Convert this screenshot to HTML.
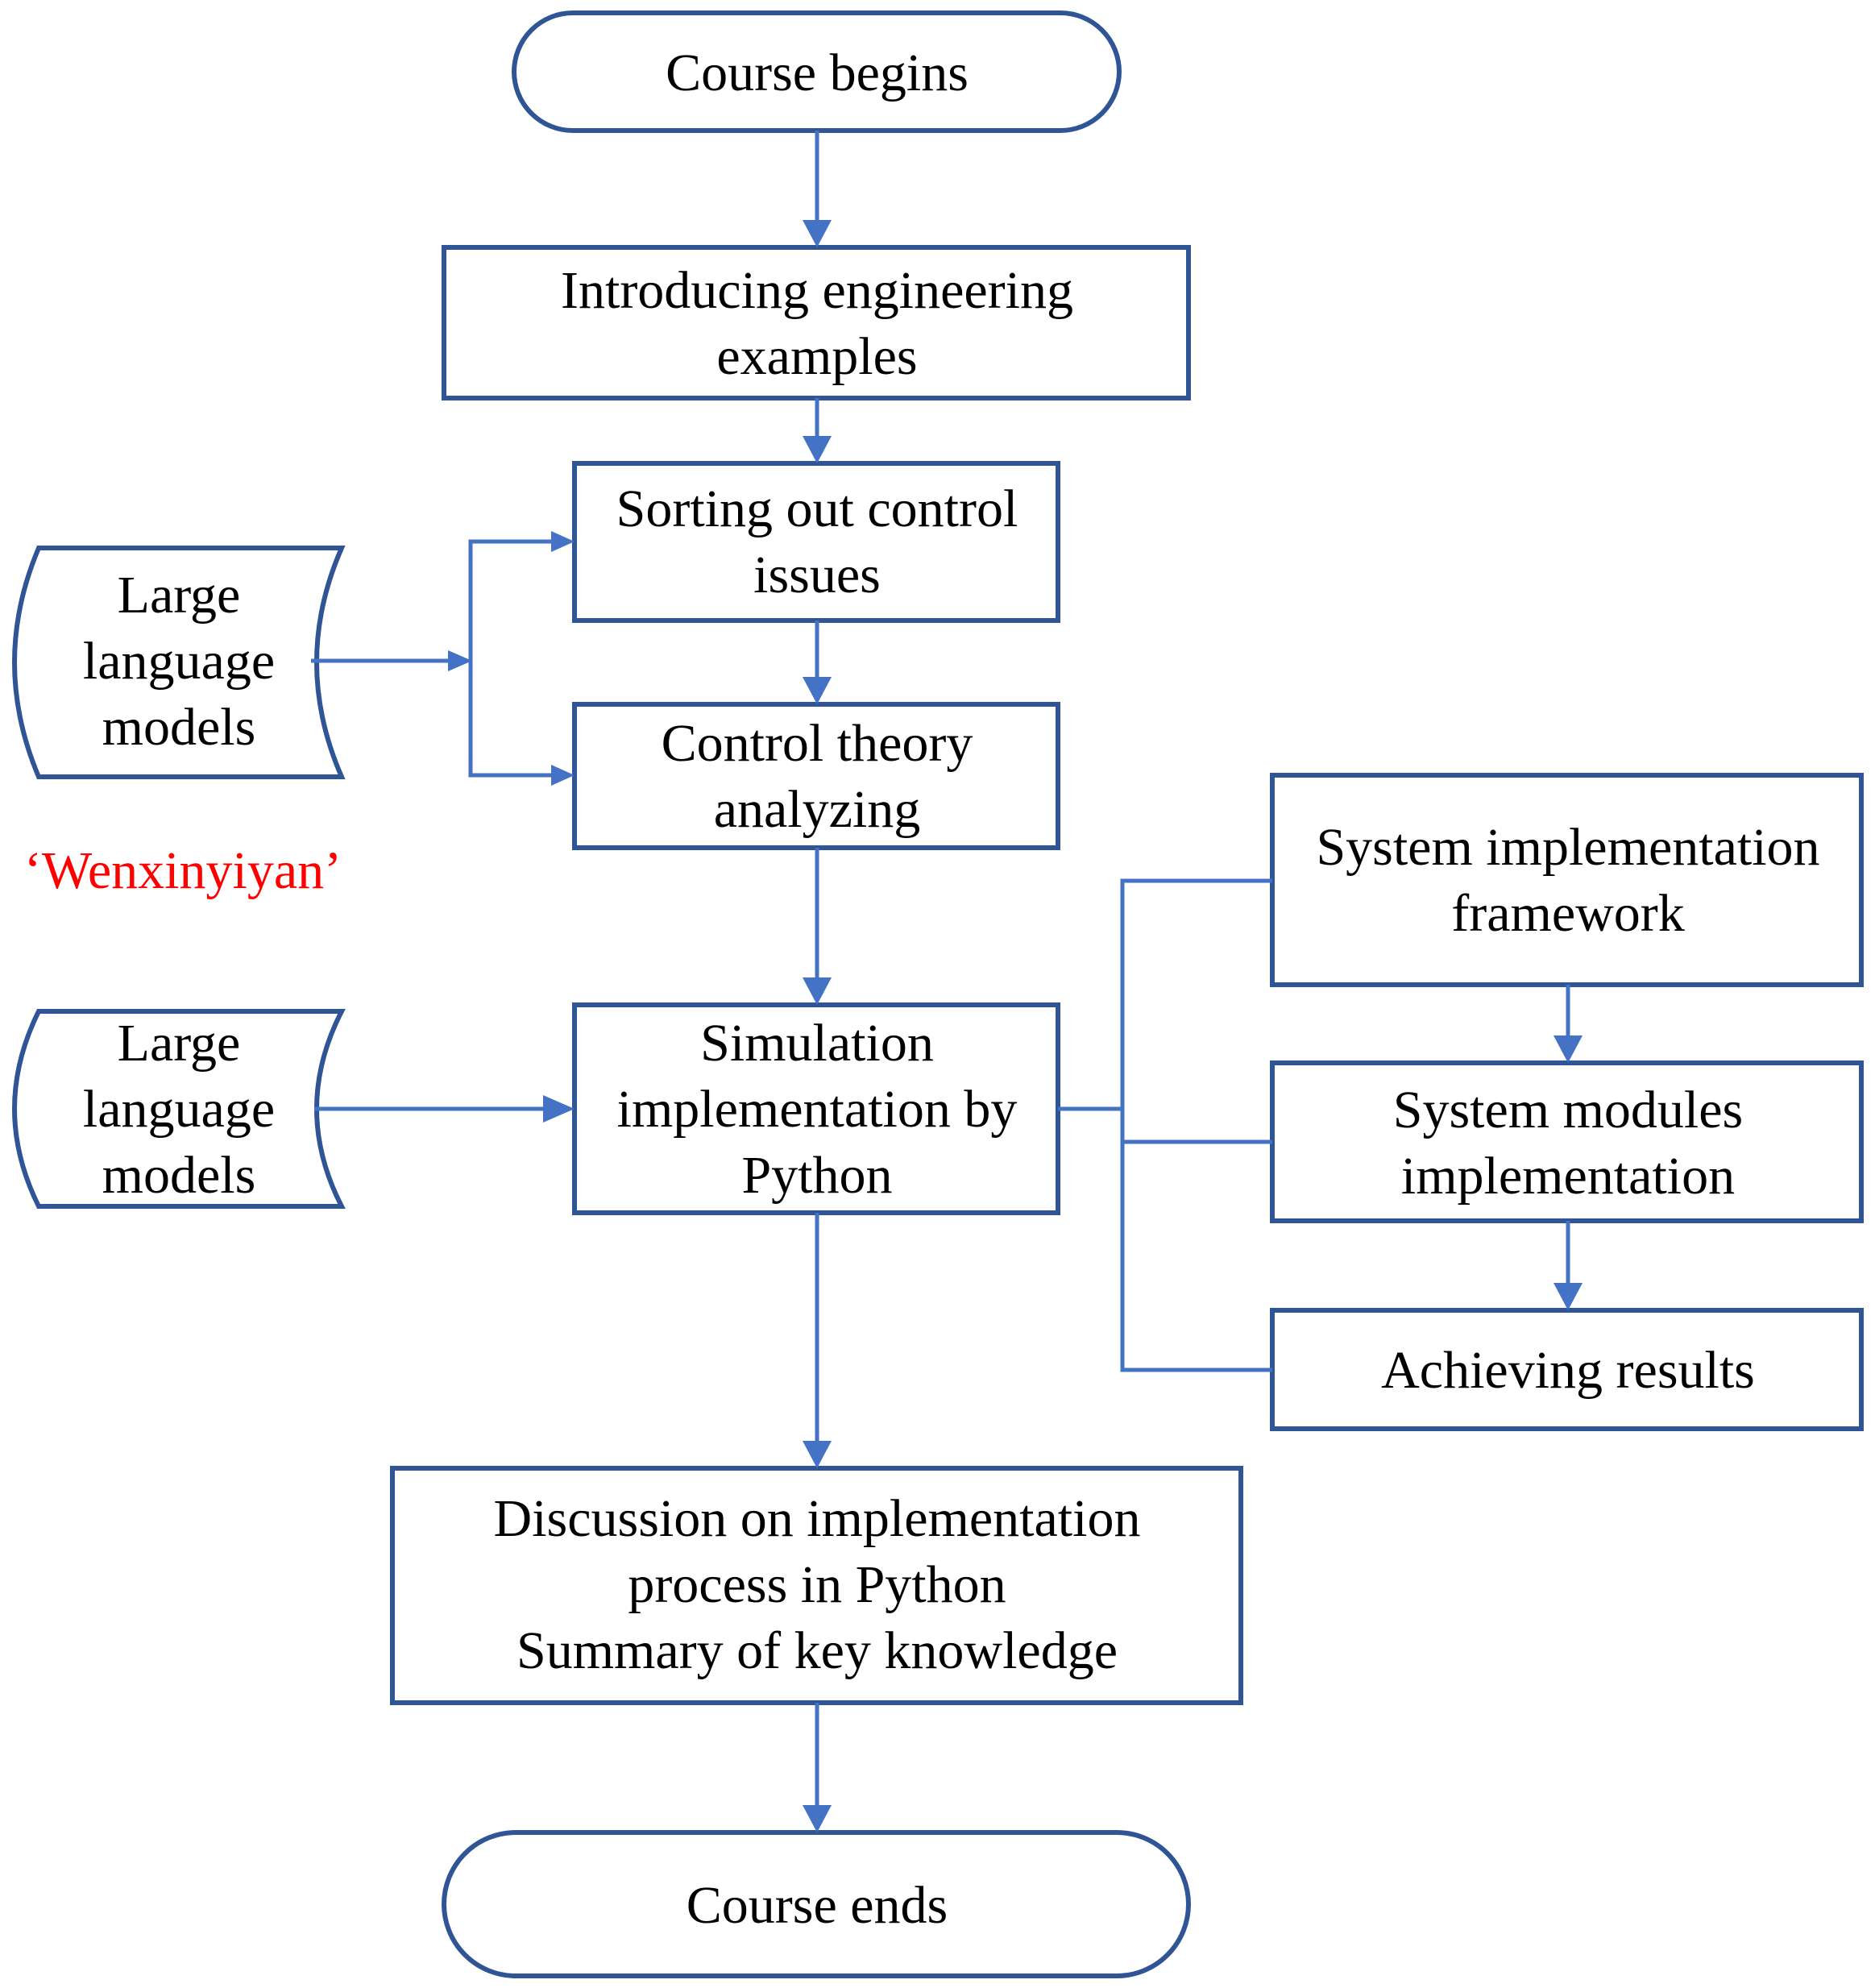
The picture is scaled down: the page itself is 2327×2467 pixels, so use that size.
<!DOCTYPE html>
<html><head><meta charset="utf-8"><style>
html,body{margin:0;padding:0;background:#fff}
svg{display:block}
text{font-family:"Liberation Serif",serif;font-size:66px;fill:#000;text-anchor:middle}
</style></head><body>
<svg width="2327" height="2467" viewBox="0 0 2327 2467" xmlns="http://www.w3.org/2000/svg">
<g fill="none" stroke="#2F5597" stroke-width="6">
<rect x="638" y="16" width="751" height="146" rx="73"/>
<rect x="551" y="307" width="924" height="187"/>
<rect x="713" y="575" width="600" height="195"/>
<rect x="713" y="874" width="600" height="178"/>
<rect x="713" y="1247" width="600" height="258"/>
<rect x="487" y="1822" width="1053" height="291"/>
<rect x="551" y="2274" width="924" height="178" rx="89"/>
<rect x="1579" y="962" width="731" height="260"/>
<rect x="1579" y="1319" width="731" height="196"/>
<rect x="1579" y="1626" width="731" height="147"/>
<path d="M48,680 L424,680 Q362,822 424,964 L48,964 Q-12,822 48,680 Z"/>
<path d="M48,1255 L424,1255 Q362,1376 424,1497 L48,1497 Q-12,1376 48,1255 Z"/>
</g>
<g fill="none" stroke="#4472C4" stroke-width="5">
<path d="M1014,162 V280"/>
<path d="M1014,494 V550"/>
<path d="M1014,770 V850"/>
<path d="M1014,1052 V1220"/>
<path d="M1014,1505 V1795"/>
<path d="M1014,2113 V2248"/>
<path d="M386,820 H566"/>
<path d="M698,672 H584 V962 H698"/>
<path d="M390,1376 H690"/>
<path d="M1313,1376 H1393"/>
<path d="M1579,1093 H1393 V1700 H1579"/>
<path d="M1393,1417 H1579"/>
<path d="M1946,1222 V1295"/>
<path d="M1946,1515 V1600"/>
</g>
<g fill="#4472C4">
<path d="M996,273 L1032,273 L1014,307 Z"/>
<path d="M996,541 L1032,541 L1014,575 Z"/>
<path d="M996,840 L1032,840 L1014,874 Z"/>
<path d="M996,1213 L1032,1213 L1014,1247 Z"/>
<path d="M996,1788 L1032,1788 L1014,1822 Z"/>
<path d="M996,2240 L1032,2240 L1014,2274 Z"/>
<path d="M556,807 L586,820 L556,833 Z"/>
<path d="M684,659 L713,672 L684,685 Z"/>
<path d="M684,949 L713,962 L684,975 Z"/>
<path d="M674,1359 L713,1376 L674,1393 Z"/>
<path d="M1928,1285 L1964,1285 L1946,1319 Z"/>
<path d="M1928,1592 L1964,1592 L1946,1626 Z"/>
</g>
<text x="1014" y="112">Course begins</text>
<text x="1014" y="382">Introducing engineering</text>
<text x="1014" y="464">examples</text>
<text x="1014" y="653">Sorting out control</text>
<text x="1014" y="735">issues</text>
<text x="1014" y="944">Control theory</text>
<text x="1014" y="1026">analyzing</text>
<text x="1014" y="1316">Simulation</text>
<text x="1014" y="1398">implementation by</text>
<text x="1014" y="1480">Python</text>
<text x="1014" y="1906">Discussion on implementation</text>
<text x="1014" y="1988">process in Python</text>
<text x="1014" y="2070">Summary of key knowledge</text>
<text x="1014" y="2386">Course ends</text>
<text x="1946" y="1073">System implementation</text>
<text x="1946" y="1155">framework</text>
<text x="1946" y="1399">System modules</text>
<text x="1946" y="1481">implementation</text>
<text x="1946" y="1722">Achieving results</text>
<text x="222" y="760">Large</text>
<text x="222" y="842">language</text>
<text x="222" y="924">models</text>
<text x="222" y="1316">Large</text>
<text x="222" y="1398">language</text>
<text x="222" y="1480">models</text>
<text x="227" y="1102" style="fill:#FF0000">‘Wenxinyiyan’</text>
</svg>
</body></html>
